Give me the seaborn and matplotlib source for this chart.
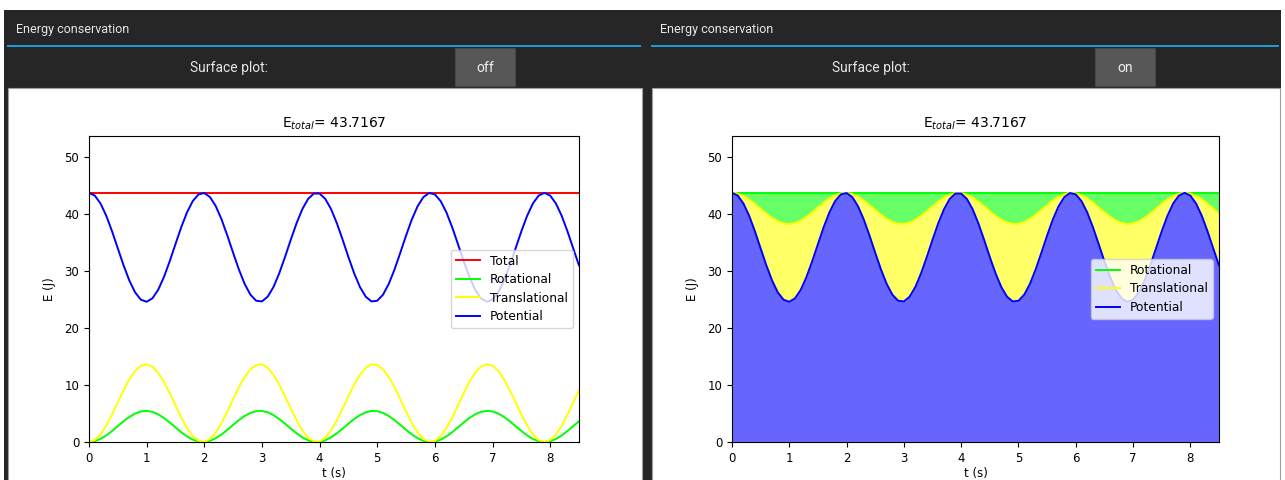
import numpy as np
import pandas as pd
import matplotlib
matplotlib.use("Agg")
import matplotlib.pyplot as plt
from matplotlib.patches import Rectangle
import seaborn as sns

# ---------------- data ----------------
E_TOTAL = 43.7167
time_s = np.round(np.arange(86) * 0.1, 1)  # 0.0 .. 8.5 s sample times

potential = [
    43.72, 43.24, 41.85, 39.69, 36.97, 33.97, 30.99, 28.33, 26.25, 24.97,
    24.61, 25.21, 26.70, 28.95, 31.72, 34.73, 37.69, 40.29, 42.28, 43.45,
    43.69, 42.97, 41.37, 39.05, 36.23, 33.21, 30.28, 27.74, 25.85, 24.79,
    24.67, 25.50, 27.20, 29.60, 32.46, 35.49, 38.38, 40.85, 42.65, 43.60,
    43.60, 42.65, 40.85, 38.38, 35.49, 32.46, 29.60, 27.20, 25.50, 24.67,
    24.79, 25.85, 27.74, 30.28, 33.21, 36.23, 39.05, 41.37, 42.97, 43.69,
    43.45, 42.28, 40.29, 37.69, 34.73, 31.72, 28.95, 26.70, 25.21, 24.61,
    24.97, 26.25, 28.33, 30.99, 33.97, 36.97, 39.69, 41.85, 43.24, 43.72,
    43.24, 41.85, 39.69, 36.97, 33.97, 30.99,
]
rotational = [
    0.00, 0.14, 0.53, 1.15, 1.93, 2.79, 3.64, 4.40, 4.99, 5.36,
    5.46, 5.29, 4.86, 4.22, 3.43, 2.57, 1.72, 0.98, 0.41, 0.08,
    0.01, 0.21, 0.67, 1.33, 2.14, 3.00, 3.84, 4.57, 5.11, 5.41,
    5.44, 5.21, 4.72, 4.03, 3.22, 2.35, 1.53, 0.82, 0.31, 0.03,
    0.03, 0.31, 0.82, 1.53, 2.35, 3.22, 4.03, 4.72, 5.21, 5.44,
    5.41, 5.11, 4.57, 3.84, 3.00, 2.14, 1.33, 0.67, 0.21, 0.01,
    0.08, 0.41, 0.98, 1.72, 2.57, 3.43, 4.22, 4.86, 5.29, 5.46,
    5.36, 4.99, 4.40, 3.64, 2.79, 1.93, 1.15, 0.53, 0.14, 0.00,
    0.14, 0.53, 1.15, 1.93, 2.79, 3.64,
]
translational = [
    0.00, 0.34, 1.34, 2.88, 4.82, 6.96, 9.09, 10.99, 12.48, 13.39,
    13.65, 13.22, 12.16, 10.55, 8.57, 6.42, 4.31, 2.45, 1.03, 0.19,
    0.02, 0.54, 1.68, 3.34, 5.35, 7.51, 9.60, 11.41, 12.76, 13.52,
    13.61, 13.01, 11.80, 10.09, 8.04, 5.88, 3.81, 2.05, 0.76, 0.09,
    0.09, 0.76, 2.05, 3.81, 5.88, 8.04, 10.09, 11.80, 13.01, 13.61,
    13.52, 12.76, 11.41, 9.60, 7.51, 5.35, 3.34, 1.68, 0.54, 0.02,
    0.19, 1.03, 2.45, 4.31, 6.42, 8.57, 10.55, 12.16, 13.22, 13.65,
    13.39, 12.48, 10.99, 9.09, 6.96, 4.82, 2.88, 1.34, 0.34, 0.00,
    0.34, 1.34, 2.88, 4.82, 6.96, 9.09,
]
total = [E_TOTAL] * len(time_s)

series_names = ["Total", "Rotational", "Translational", "Potential"]
series_colors = {"Total": "#ff0000", "Rotational": "#00ff00",
                 "Translational": "#ffff00", "Potential": "#0000ff"}
x_ticks = [0, 1, 2, 3, 4, 5, 6, 7, 8]
y_ticks = [0, 10, 20, 30, 40, 50]
panel_title = "Energy conservation"
toggle_label = "Surface plot:"
toggle_states = ["off", "on"]

df = pd.DataFrame({"t": time_s, "Total": total, "Rotational": rotational,
                   "Translational": translational, "Potential": potential})

# ---------------- figure ----------------
plt.rcParams["font.family"] = ["DejaVu Sans"]
plt.rcParams["xtick.direction"] = "out"
plt.rcParams["ytick.direction"] = "out"

W, H = 1285, 480
fig = plt.figure(figsize=(W / 100, H / 100), dpi=100)
fig.patch.set_facecolor("white")

bg = fig.add_axes([0, 0, 1, 1], zorder=-5)
bg.set_xlim(0, W)
bg.set_ylim(H, 0)
bg.axis("off")

DARK = "#262626"
BLUE = "#1e9bd7"
panels = [
    dict(x0=4, x1=645, white0=8, white1=642, line0=7, line1=641,
         label_cx=229, btn0=455, btn1=515, state=toggle_states[0]),
    dict(x0=645, x1=1281, white0=652, white1=1280, line0=651, line1=1279,
         label_cx=871, btn0=1095, btn1=1155, state=toggle_states[1]),
]
for p in panels:
    bg.add_patch(Rectangle((p["x0"], 10), p["x1"] - p["x0"], H - 10,
                           facecolor=DARK, edgecolor="none"))
    bg.add_patch(Rectangle((p["line0"], 44.5), p["line1"] - p["line0"], 2,
                           facecolor=BLUE, edgecolor="none"))
    bg.add_patch(Rectangle((p["white0"], 88), p["white1"] - p["white0"], H - 86,
                           facecolor="white", edgecolor="#9e9e9e", linewidth=0.8))
    bg.add_patch(Rectangle((p["btn0"], 48), p["btn1"] - p["btn0"], 38,
                           facecolor="#575757", edgecolor="#474747", linewidth=0.8))
    bg.text(p["line0"] + 9, 29, panel_title, color="#e6e6e6", fontsize=9,
            family="Roboto", va="center", ha="left")
    bg.text(p["label_cx"], 68, toggle_label, color="#e6e6e6", fontsize=10,
            family="Roboto", va="center", ha="center")
    bg.text((p["btn0"] + p["btn1"]) / 2, 68, p["state"], color="#f0f0f0",
            fontsize=10, family="Roboto", va="center", ha="center")


def px_axes(x0, x1, y0, y1):
    return fig.add_axes([x0 / W, (H - y1) / H, (x1 - x0) / W, (y1 - y0) / H])


title_txt = r"E$_{total}$= " + f"{E_TOTAL:.4f}"


def style_axes(ax):
    ax.set_xlim(0, 8.5)
    ax.set_ylim(0, 53.7)
    ax.set_xticks(x_ticks)
    ax.set_yticks(y_ticks)
    ax.tick_params(labelsize=8.5, length=3.5, width=0.8, colors="black")
    for s in ax.spines.values():
        s.set_color("black")
        s.set_linewidth(0.8)
    ax.set_xlabel("t (s)", fontsize=8.5, labelpad=2)
    ax.set_ylabel("E (J)", fontsize=8.5, labelpad=6)
    ax.set_title(title_txt, fontsize=10, pad=6)


# ---- left: lines ----
ax1 = px_axes(89, 579, 136, 442)
for name in series_names:
    sns.lineplot(data=df, x="t", y=name, color=series_colors[name],
                 linewidth=1.4, label=name, ax=ax1)
style_axes(ax1)
ax1.legend(loc="center right", fontsize=8.8, framealpha=0.8,
           edgecolor="#cccccc", fancybox=True, handlelength=2,
           labelspacing=0.45)

# ---- right: stacked surfaces ----
ax2 = px_axes(732, 1219, 136, 442)
lvl_pot = df["Potential"]
lvl_trans = lvl_pot + df["Translational"]
lvl_rot = lvl_trans + df["Rotational"]
ax2.fill_between(df["t"], 0, lvl_pot, color=series_colors["Potential"],
                 alpha=0.6, linewidth=0)
ax2.fill_between(df["t"], lvl_pot, lvl_trans, color=series_colors["Translational"],
                 alpha=0.6, linewidth=0)
ax2.fill_between(df["t"], lvl_trans, lvl_rot, color=series_colors["Rotational"],
                 alpha=0.6, linewidth=0)
stack = pd.DataFrame({"t": df["t"], "Rotational": lvl_rot,
                      "Translational": lvl_trans, "Potential": lvl_pot})
for name in ["Rotational", "Translational", "Potential"]:
    sns.lineplot(data=stack, x="t", y=name, color=series_colors[name],
                 linewidth=1.4, label=name, ax=ax2)
style_axes(ax2)
ax2.legend(loc="center right", fontsize=8.8, framealpha=0.8,
           edgecolor="#cccccc", fancybox=True, handlelength=2,
           labelspacing=0.45)

fig.savefig("out.png", dpi=100, facecolor=fig.get_facecolor())
